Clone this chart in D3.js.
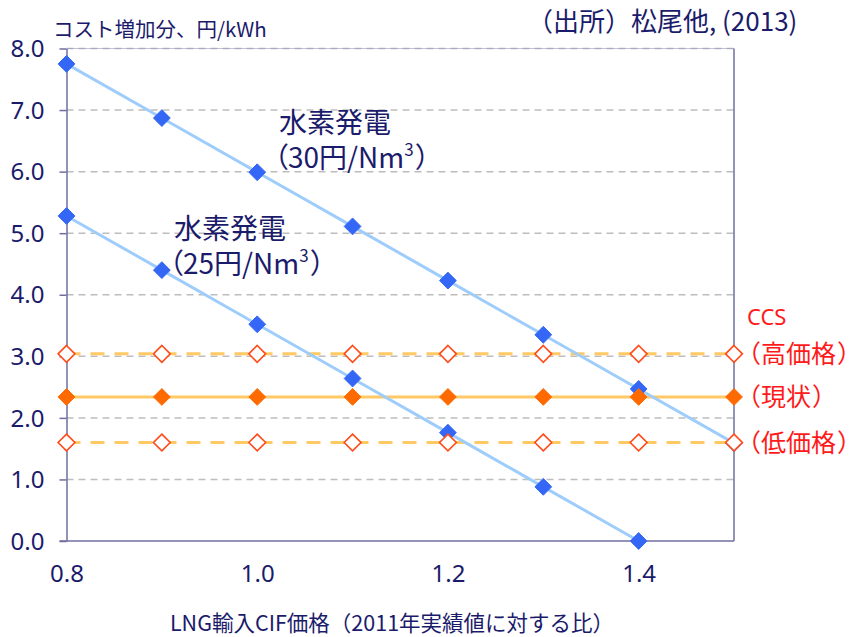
<!DOCTYPE html>
<html lang="ja">
<head>
<meta charset="utf-8">
<script src="https://cdn.jsdelivr.net/npm/d3@7"></script>
<style>
  html, body { margin: 0; padding: 0; background: #ffffff; }
  svg { display: block; }
  .jp { font-family: "Noto Sans CJK JP", "Noto Sans", sans-serif; }
  .num { font-family: "Noto Sans", "Open Sans", sans-serif; }
  .palt { font-feature-settings: "palt" 1; }
</style>
</head>
<body>
<svg id="chart" width="855" height="637"></svg>
<script>
// LNG import CIF price relative to 2011 actual
const lngRatio = [0.8, 0.9, 1.0, 1.1, 1.2, 1.3, 1.4, 1.5];

// Hydrogen power cost increase (yen/kWh)
const h2Cost30 = [7.75, 6.87, 5.99, 5.11, 4.23, 3.35, 2.47, 1.59];
const h2Cost25 = [5.28, 4.40, 3.52, 2.64, 1.76, 0.88, 0.00];

// LNG + CCS cost increase (yen/kWh)
const ccsHigh    = [3.04, 3.04, 3.04, 3.04, 3.04, 3.04, 3.04, 3.04];
const ccsCurrent = [2.34, 2.34, 2.34, 2.34, 2.34, 2.34, 2.34, 2.34];
const ccsLow     = [1.60, 1.60, 1.60, 1.60, 1.60, 1.60, 1.60, 1.60];

const yTicks = [0, 1, 2, 3, 4, 5, 6, 7, 8];
const xTicks = [0.8, 1.0, 1.2, 1.4];

const svg = d3.select("#chart");
const navy = "#1b1b6b";
const axisColor = "#6f6f9f";

const x = d3.scaleLinear().domain([0.8, 1.5]).range([66.5, 734]);
const y = d3.scaleLinear().domain([0, 8]).range([541, 48.5]);

// horizontal dashed gridlines
svg.append("g")
  .selectAll("line")
  .data(yTicks.filter(d => d > 0))
  .join("line")
  .attr("x1", x(0.8)).attr("x2", x(1.5))
  .attr("y1", d => y(d)).attr("y2", d => y(d))
  .attr("stroke", "#bdbdbd")
  .attr("stroke-width", 1.5)
  .attr("stroke-dasharray", "7,5");

// plot frame: right edge and top edge
svg.append("line")
  .attr("x1", x(1.5)).attr("x2", x(1.5))
  .attr("y1", y(8)).attr("y2", y(0))
  .attr("stroke", axisColor).attr("stroke-width", 1.5);
svg.append("line")
  .attr("x1", x(0.8)).attr("x2", x(1.5))
  .attr("y1", y(8)).attr("y2", y(8))
  .attr("stroke", "#9a9ac0").attr("stroke-width", 1)
  .attr("stroke-opacity", 0.6);

// y axis
const yAxis = d3.axisLeft(y)
  .tickValues(yTicks)
  .tickFormat(d3.format(".1f"))
  .tickSizeInner(7)
  .tickSizeOuter(0)
  .tickPadding(15);
const gy = svg.append("g")
  .attr("transform", `translate(${x(0.8)},0)`)
  .call(yAxis);
gy.select(".domain").attr("stroke", axisColor).attr("stroke-width", 1.5);
gy.selectAll(".tick line").attr("stroke", axisColor).attr("stroke-width", 1.5);
gy.selectAll(".tick text")
  .attr("class", "num")
  .attr("fill", navy)
  .attr("font-size", 24)
  .attr("dy", "0.34em");

// x axis (labels only, line along zero)
const xAxis = d3.axisBottom(x)
  .tickValues(xTicks)
  .tickFormat(d3.format(".1f"))
  .tickSize(0)
  .tickPadding(24);
const gx = svg.append("g")
  .attr("transform", `translate(0,${y(0)})`)
  .call(xAxis);
gx.select(".domain").remove();
gx.selectAll(".tick text")
  .attr("class", "num")
  .attr("fill", navy)
  .attr("font-size", 24);
svg.append("line")
  .attr("x1", x(0.8) - 7).attr("x2", x(1.5))
  .attr("y1", y(0)).attr("y2", y(0))
  .attr("stroke", axisColor).attr("stroke-width", 1.5);

// series lines
const line = d3.line().x(d => x(d[0])).y(d => y(d[1]));
const zipX = vals => vals.map((v, i) => [lngRatio[i], v]);

const ccsLineColor = "#ffca66";
svg.append("path").datum(zipX(ccsHigh))
  .attr("d", line).attr("fill", "none")
  .attr("stroke", ccsLineColor).attr("stroke-width", 3)
  .attr("stroke-dasharray", "14,10");
svg.append("path").datum(zipX(ccsLow))
  .attr("d", line).attr("fill", "none")
  .attr("stroke", ccsLineColor).attr("stroke-width", 3)
  .attr("stroke-dasharray", "14,10");
svg.append("path").datum(zipX(ccsCurrent))
  .attr("d", line).attr("fill", "none")
  .attr("stroke", ccsLineColor).attr("stroke-width", 3);

const h2LineColor = "#9fcdfb";
[h2Cost30, h2Cost25].forEach(vals => {
  svg.append("path").datum(zipX(vals))
    .attr("d", line).attr("fill", "none")
    .attr("stroke", h2LineColor).attr("stroke-width", 3);
});

// markers
const diamond = d3.symbol().type(d3.symbolDiamond2).size(180);
function markers(vals, fill, stroke, sw) {
  svg.append("g")
    .selectAll("path")
    .data(zipX(vals))
    .join("path")
    .attr("d", diamond)
    .attr("transform", d => `translate(${x(d[0])},${y(d[1])})`)
    .attr("fill", fill)
    .attr("stroke", stroke)
    .attr("stroke-width", sw);
}
markers(h2Cost30, "#3467f5", "#3467f5", 1);
markers(h2Cost25, "#3467f5", "#3467f5", 1);
markers(ccsHigh, "#ffffff", "#ff4a1a", 1.6);
markers(ccsLow, "#ffffff", "#ff4a1a", 1.6);
markers(ccsCurrent, "#ff6a00", "#ff6a00", 1);

// titles
svg.append("text").attr("class", "jp")
  .attr("x", 53).attr("y", 37)
  .attr("font-size", 20.5).attr("fill", navy)
  .text("コスト増加分、円/kWh");

svg.append("text").attr("class", "jp")
  .attr("x", 527).attr("y", 31)
  .attr("font-size", 26).attr("fill", navy)
  .text("（出所）松尾他, (2013)");

svg.append("text").attr("class", "jp")
  .attr("x", 392).attr("y", 631)
  .attr("text-anchor", "middle")
  .attr("font-size", 21.5).attr("fill", navy)
  .text("LNG輸入CIF価格（2011年実績値に対する比）");

// hydrogen annotations
function h2Label(x0, yTop, price) {
  svg.append("text").attr("class", "jp")
    .attr("x", x0).attr("y", yTop)
    .attr("font-size", 28).attr("fill", navy)
    .text("水素発電");
  const t = svg.append("text").attr("class", "jp")
    .attr("x", x0 - 5).attr("y", yTop + 35)
    .attr("font-size", 28).attr("fill", navy);
  t.append("tspan").attr("class", "palt").text("（");
  t.append("tspan").text(`${price}円/Nm`);
  t.append("tspan").attr("font-size", 17).attr("dx", 0).attr("dy", -12).text("3");
  t.append("tspan").attr("class", "palt").attr("dx", 2).attr("dy", 12).text("）");
}
h2Label(279, 133, 30);
h2Label(174, 239, 25);

// CCS annotations
const red = "#ff1a1a";
svg.append("text").attr("class", "num")
  .attr("x", 747).attr("y", y(3.04) - 29)
  .attr("font-size", 22).attr("fill", red)
  .text("CCS");
[["高価格", 3.04], ["現状", 2.34], ["低価格", 1.60]].forEach(([s, v]) => {
  const t = svg.append("text").attr("class", "jp")
    .attr("x", 736).attr("y", y(v) + 9)
    .attr("font-size", 25).attr("fill", red);
  t.append("tspan").text(`（${s}`);
  t.append("tspan").attr("class", "palt").attr("dx", 2).text("）");
});
</script>
</body>
</html>
